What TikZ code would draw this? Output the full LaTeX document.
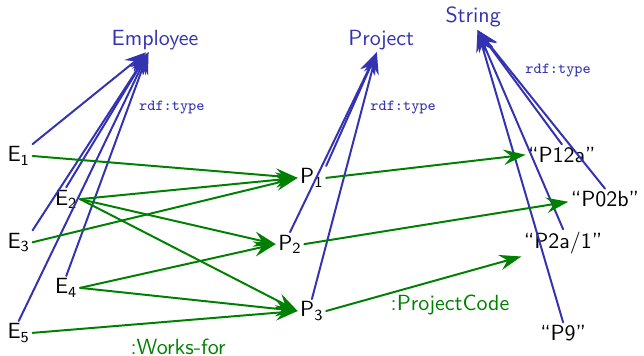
\documentclass[tikz,border=0pt]{standalone}
\usepackage{tikz}
\usetikzlibrary{arrows.meta}
\definecolor{typeblue}{rgb}{0.2,0.2,0.7}
\definecolor{relgreen}{rgb}{0,0.5,0}
\begin{document}
\begin{tikzpicture}[line cap=round,line join=round,>={Stealth[length=10pt,width=7pt,inset=3.5pt]},x=1.0mm,y=1.0mm,font=\sffamily,
  every node/.style={inner sep=1pt},
  cls/.style={text=typeblue},
  typ/.style={->,draw=typeblue,line width=0.9pt},
  rel/.style={->,draw=relgreen,line width=0.9pt},
  rdflbl/.style={text=typeblue,font=\ttfamily\scriptsize},
  rellbl/.style={text=relgreen}]
\useasboundingbox (0,0) rectangle (103.04,56.96);
\node[cls] (emp) at (24.8,50.6) {Employee};
\node[cls] (proj) at (61.0,50.6) {Project};
\node[cls] (str) at (75.7,54.2) {String};
\node (e1) at (3.0,32.0) {E$_\mathsf{1}$};
\node (e2) at (10.6,25.1) {E$_\mathsf{2}$};
\node (e3) at (3.0,18.2) {E$_\mathsf{3}$};
\node (e4) at (10.6,10.9) {E$_\mathsf{4}$};
\node (e5) at (3.0,3.7) {E$_\mathsf{5}$};
\node (p1) at (49.9,28.5) {P$_\mathsf{1}$};
\node (p2) at (46.4,17.9) {P$_\mathsf{2}$};
\node (p3) at (49.9,7.2) {P$_\mathsf{3}$};
\node (lit1) at (89.9,32.2) {``P12a''};
\node (lit2) at (96.8,25.1) {``P02b''};
\node (lit3) at (90.1,18.1) {``P2a/1''};
\node (lit4) at (90.1,3.7) {``P9''};
\node[rdflbl] (t1) at (27.5,39.8) {rdf:type};
\node[rdflbl] (t2) at (64.5,39.8) {rdf:type};
\node[rdflbl] (t3) at (89.3,45.6) {rdf:type};
\node[rellbl] (wf) at (28.5,1.4) {:Works-for};
\node[rellbl] (pc) at (72.0,8.2) {:ProjectCode};
\draw[typ] (e1.north east) -- ([xshift=-4pt]emp.south);
\draw[typ] (e2.north) -- ([xshift=-3pt]emp.south);
\draw[typ] (e3.north east) -- ([xshift=-3pt]emp.south);
\draw[typ] (e4.north) -- ([xshift=-3pt]emp.south);
\draw[typ] (e5.north) -- ([xshift=-3pt]emp.south);
\draw[typ] (p1.north east) -- ([xshift=-2pt]proj.south);
\draw[typ] (p2.north) -- ([xshift=-2pt]proj.south);
\draw[typ] (p3.north) -- ([xshift=-2pt]proj.south);
\draw[typ] (lit1.north) -- ([xshift=2pt]str.south);
\draw[typ] (lit2.north) -- ([xshift=2pt]str.south);
\draw[typ] (lit3.north) -- ([xshift=2pt]str.south);
\draw[typ] (lit4.north) -- ([xshift=2pt]str.south);
\draw[rel] (e1.east) -- (p1.west);
\draw[rel] (e2.east) -- (p1.west);
\draw[rel] (e2.east) -- (p2.west);
\draw[rel] (e2.east) -- (p3.west);
\draw[rel] (e3.east) -- (p1.west);
\draw[rel] (e4.east) -- (p2.west);
\draw[rel] (e4.east) -- (p3.west);
\draw[rel] (e5.east) -- (p3.west);
\draw[rel] (p1.east) -- (lit1.west);
\draw[rel] (p2.east) -- (lit2.mid west);
\draw[rel] (p3.east) -- (lit3.south west);
\end{tikzpicture}
\end{document}
